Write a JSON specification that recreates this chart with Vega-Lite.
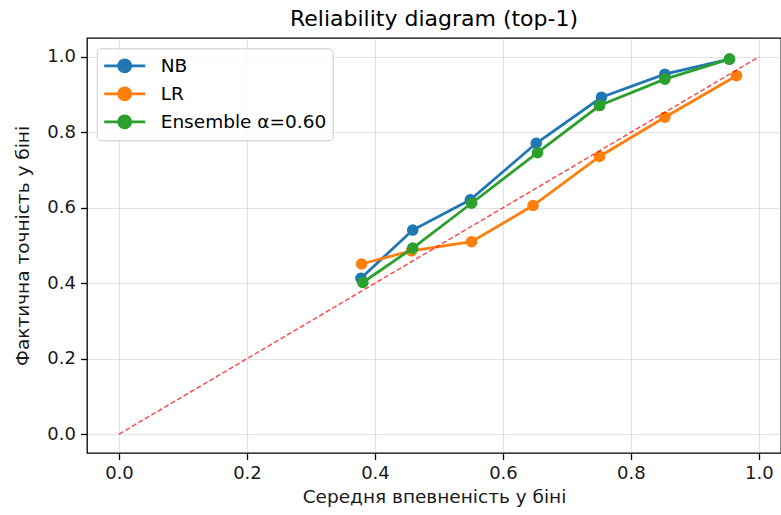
{
  "$schema": "https://vega.github.io/schema/vega-lite/v6.json",
  "width": 694,
  "height": 415,
  "autosize": {"type": "none"},
  "padding": {"left": 87, "top": 38, "right": 0, "bottom": 62},
  "background": "white",
  "title": {"text": "Reliability diagram (top-1)", "font": "DejaVu Sans", "fontSize": 22, "fontWeight": "normal", "color": "#000000", "offset": 7},
  "datasets": {
    "bins": [
      {"model": "NB", "conf": 0.378, "acc": 0.413},
      {"model": "NB", "conf": 0.459, "acc": 0.541},
      {"model": "NB", "conf": 0.549, "acc": 0.621},
      {"model": "NB", "conf": 0.652, "acc": 0.771},
      {"model": "NB", "conf": 0.754, "acc": 0.893},
      {"model": "NB", "conf": 0.853, "acc": 0.954},
      {"model": "NB", "conf": 0.954, "acc": 0.994},
      {"model": "LR", "conf": 0.379, "acc": 0.451},
      {"model": "LR", "conf": 0.457, "acc": 0.486},
      {"model": "LR", "conf": 0.551, "acc": 0.510},
      {"model": "LR", "conf": 0.647, "acc": 0.606},
      {"model": "LR", "conf": 0.751, "acc": 0.736},
      {"model": "LR", "conf": 0.853, "acc": 0.840},
      {"model": "LR", "conf": 0.965, "acc": 0.950},
      {"model": "Ensemble α=0.60", "conf": 0.381, "acc": 0.402},
      {"model": "Ensemble α=0.60", "conf": 0.459, "acc": 0.493},
      {"model": "Ensemble α=0.60", "conf": 0.551, "acc": 0.612},
      {"model": "Ensemble α=0.60", "conf": 0.654, "acc": 0.746},
      {"model": "Ensemble α=0.60", "conf": 0.751, "acc": 0.871},
      {"model": "Ensemble α=0.60", "conf": 0.853, "acc": 0.941},
      {"model": "Ensemble α=0.60", "conf": 0.954, "acc": 0.994}
    ],
    "diag": [{"conf": 0, "acc": 0}, {"conf": 1, "acc": 1}]
  },
  "data": {"name": "bins"},
  "encoding": {
    "x": {"field": "conf", "type": "quantitative", "scale": {"domain": [-0.05, 1.0345], "nice": false, "zero": false},
      "axis": {"values": [0, 0.2, 0.4, 0.6, 0.8, 1.0], "format": ".1f", "title": "Середня впевненість у біні"}},
    "y": {"field": "acc", "type": "quantitative", "scale": {"domain": [-0.05, 1.05], "nice": false, "zero": false},
      "axis": {"values": [0, 0.2, 0.4, 0.6, 0.8, 1.0], "format": ".1f", "title": "Фактична точність у біні"}},
    "color": {"field": "model", "type": "nominal",
      "scale": {"domain": ["NB", "LR", "Ensemble α=0.60"], "range": ["#1f77b4", "#ff7f0e", "#2ca02c"]},
      "legend": {
        "orient": "none", "legendX": 9.7, "legendY": 10.3, "title": null, "padding": 6,
        "fillColor": "rgba(255,255,255,0.8)", "strokeColor": "#cccccc", "cornerRadius": 4,
        "labelFont": "DejaVu Sans", "labelFontSize": 18.5, "labelColor": "#000000", "labelOffset": 35,
        "labelLimit": 400, "rowPadding": 3,
        "symbolType": "M-1,0H3.1M0.45,0A0.6,0.6,0,1,0,1.65,0A0.6,0.6,0,1,0,0.45,0Z",
        "symbolSize": 400, "symbolStrokeWidth": 2.8,
        "encode": {"symbols": {"update": {
          "fill": {"scale": "color", "field": "value"},
          "stroke": {"scale": "color", "field": "value"}
        }}}
      }}
  },
  "layer": [
    {"transform": [{"filter": "datum.model === 'NB'"}], "mark": {"type": "line", "strokeWidth": 2.8}},
    {"transform": [{"filter": "datum.model === 'NB'"}], "mark": {"type": "circle", "size": 135, "opacity": 1}},
    {"transform": [{"filter": "datum.model === 'LR'"}], "mark": {"type": "line", "strokeWidth": 2.8}},
    {"transform": [{"filter": "datum.model === 'LR'"}], "mark": {"type": "circle", "size": 135, "opacity": 1}},
    {"transform": [{"filter": "datum.model === 'Ensemble α=0.60'"}], "mark": {"type": "line", "strokeWidth": 2.8}},
    {"transform": [{"filter": "datum.model === 'Ensemble α=0.60'"}], "mark": {"type": "circle", "size": 135, "opacity": 1}},
    {"data": {"name": "diag"}, "mark": {"type": "line", "color": "red", "opacity": 0.7, "strokeDash": [5, 2.5], "strokeWidth": 1.5},
      "encoding": {"x": {"field": "conf", "type": "quantitative"}, "y": {"field": "acc", "type": "quantitative"}, "color": {"value": "red"}}}
  ],
  "config": {
    "view": {"stroke": "#000000", "strokeWidth": 1.3},
    "axis": {
      "domain": false, "grid": true, "gridColor": "#b0b0b0", "gridOpacity": 0.35, "gridWidth": 1.2,
      "tickColor": "#000000", "tickSize": 6.5, "tickWidth": 1.3,
      "labelFont": "DejaVu Sans", "labelFontSize": 18, "labelColor": "#1a1a1a", "labelPadding": 5,
      "titleFont": "DejaVu Sans", "titleFontSize": 18.5, "titleFontWeight": "normal", "titleColor": "#1a1a1a"
    },
    "axisX": {"titlePadding": 5},
    "axisY": {"titlePadding": 14}
  }
}
